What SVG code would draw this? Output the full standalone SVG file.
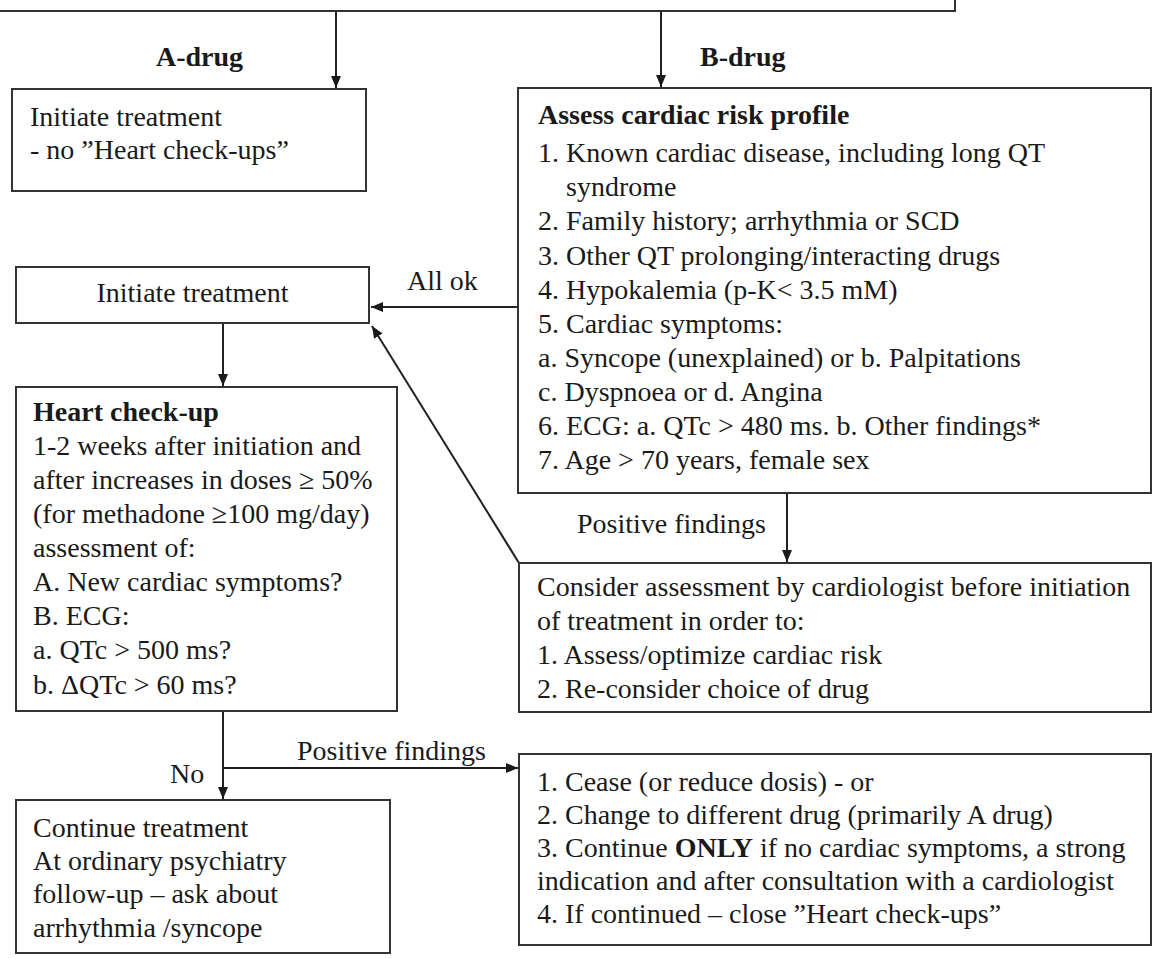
<svg xmlns="http://www.w3.org/2000/svg" width="1153" height="959" viewBox="0 0 1153 959">
  <defs>
    <marker id="arr" markerUnits="userSpaceOnUse" markerWidth="12" markerHeight="10" refX="12" refY="5" orient="auto">
      <path d="M0,0 L12,5 L0,10 z" fill="#1a1a1a"/>
    </marker>
    <style>
      .box { fill: #ffffff; stroke: #333333; stroke-width: 2; }
      .t { font-family: "Liberation Serif", "Times New Roman", serif; font-size: 28px; fill: #1a1a1a; }
      .b { font-weight: bold; }
      .ln { fill: none; stroke: #222222; stroke-width: 2; }
      .arrow { fill: none; stroke: #222222; stroke-width: 2; marker-end: url(#arr); }
    </style>
  </defs>
  <rect width="1153" height="959" fill="#ffffff"/>

  <g id="top-box">
    <rect class="box" x="-10" y="-10" width="965" height="21"/>
  </g>

  <g id="connectors">
    <line class="arrow" x1="336" y1="11" x2="336" y2="88"/>
    <line class="arrow" x1="661" y1="11" x2="661" y2="87"/>
    <line class="arrow" x1="517" y1="307" x2="371" y2="307"/>
    <line class="arrow" x1="223" y1="323" x2="223" y2="386"/>
    <line class="arrow" x1="519" y1="563" x2="372" y2="326"/>
    <line class="arrow" x1="787" y1="493" x2="787" y2="562"/>
    <line class="ln" x1="223" y1="711" x2="223" y2="768"/>
    <line class="arrow" x1="223" y1="768" x2="223" y2="799"/>
    <line class="arrow" x1="223" y1="768" x2="518" y2="768"/>
    <text class="t b" x="156" y="66">A-drug</text>
    <text class="t b" x="700" y="66">B-drug</text>
    <text class="t" x="407" y="290">All ok</text>
    <text class="t" x="577" y="533">Positive findings</text>
    <text class="t" x="297" y="760">Positive findings</text>
    <text class="t" x="170" y="783">No</text>
  </g>

  <g id="a-drug-box">
    <rect class="box" x="12" y="89" width="354" height="102"/>
    <text class="t" x="30" y="126">Initiate treatment</text>
    <text class="t" x="30" y="159">- no ”Heart check-ups”</text>
  </g>

  <g id="risk-profile">
    <rect class="box" x="518" y="88" width="633" height="405"/>
    <text class="t b" x="538" y="124">Assess cardiac risk profile</text>
    <text class="t" x="538" y="162">1. Known cardiac disease, including long QT</text>
    <text class="t" x="566" y="196">syndrome</text>
    <text class="t" x="538" y="230">2. Family history; arrhythmia or SCD</text>
    <text class="t" x="538" y="265">3. Other QT prolonging/interacting drugs</text>
    <text class="t" x="538" y="299">4. Hypokalemia (p-K&lt; 3.5 mM)</text>
    <text class="t" x="538" y="333">5. Cardiac symptoms:</text>
    <text class="t" x="538" y="367">a. Syncope (unexplained) or b. Palpitations</text>
    <text class="t" x="538" y="401">c. Dyspnoea or d. Angina</text>
    <text class="t" x="538" y="435">6. ECG: a. QTc &gt; 480 ms. b. Other findings*</text>
    <text class="t" x="538" y="469">7. Age &gt; 70 years, female sex</text>
  </g>

  <g id="initiate-treatment">
    <rect class="box" x="16" y="267" width="353" height="56"/>
    <text class="t" x="192.5" y="302" text-anchor="middle">Initiate treatment</text>
  </g>

  <g id="heart-check-up">
    <rect class="box" x="16" y="387" width="381" height="324"/>
    <text class="t b" x="33" y="421">Heart check-up</text>
    <text class="t" x="33" y="455">1-2 weeks after initiation and</text>
    <text class="t" x="33" y="489">after increases in doses ≥ 50%</text>
    <text class="t" x="33" y="523">(for methadone ≥100 mg/day)</text>
    <text class="t" x="33" y="557">assessment of:</text>
    <text class="t" x="33" y="591">A. New cardiac symptoms?</text>
    <text class="t" x="33" y="625">B. ECG:</text>
    <text class="t" x="33" y="659">a. QTc &gt; 500 ms?</text>
    <text class="t" x="33" y="694">b. ΔQTc &gt; 60 ms?</text>
  </g>

  <g id="cardiologist">
    <rect class="box" x="519" y="563" width="632" height="149"/>
    <text class="t" x="537" y="596">Consider assessment by cardiologist before initiation</text>
    <text class="t" x="537" y="630">of treatment in order to:</text>
    <text class="t" x="537" y="664">1. Assess/optimize cardiac risk</text>
    <text class="t" x="537" y="698">2. Re-consider choice of drug</text>
  </g>

  <g id="continue-treatment">
    <rect class="box" x="16" y="800" width="374" height="153"/>
    <text class="t" x="33" y="837">Continue treatment</text>
    <text class="t" x="33" y="870">At ordinary psychiatry</text>
    <text class="t" x="33" y="903">follow-up – ask about</text>
    <text class="t" x="33" y="937">arrhythmia /syncope</text>
  </g>

  <g id="cease">
    <rect class="box" x="519" y="754" width="632" height="191"/>
    <text class="t" x="537" y="791">1. Cease (or reduce dosis) - or</text>
    <text class="t" x="537" y="824">2. Change to different drug (primarily A drug)</text>
    <text class="t" x="537" y="857">3. Continue <tspan class="b">ONLY</tspan> if no cardiac symptoms, a strong</text>
    <text class="t" x="537" y="890">indication and after consultation with a cardiologist</text>
    <text class="t" x="537" y="923">4. If continued – close ”Heart check-ups”</text>
  </g>
</svg>
